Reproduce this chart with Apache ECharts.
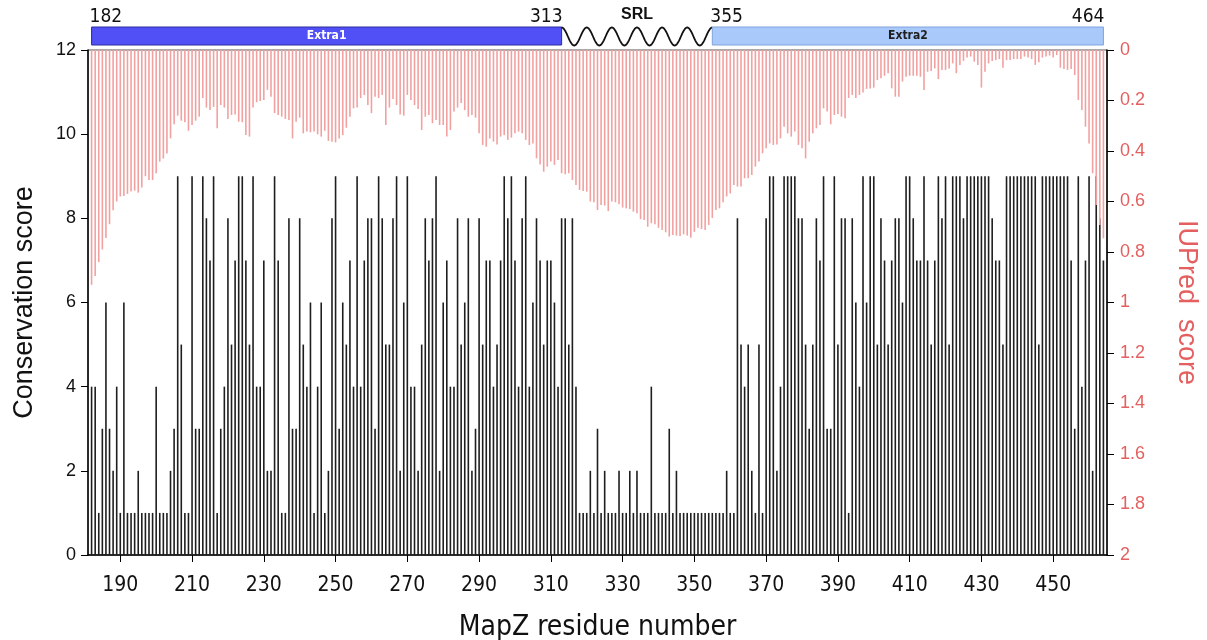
<!DOCTYPE html>
<html><head><meta charset="utf-8">
<script src="https://cdn.jsdelivr.net/npm/echarts@6/dist/echarts.min.js"></script>
<style>html,body{margin:0;padding:0;background:#fff}#c{width:1207px;height:640px}</style>
</head><body><div id="c"></div>
<script>
// ---- data ----
const firstResidue = 182;
const conservation = [
  4,4,1,3,6,3,2,4,1,6,1,1,1,2,1,1,1,1,4,1,1,1,2,3,9,5,1,1,9,3,3,9,8,7,9,
  1,3,4,8,5,7,9,9,7,5,9,4,4,7,2,2,9,7,1,1,8,3,3,8,5,4,6,1,4,6,1,2,8,9,3,
  6,5,7,4,9,4,7,8,8,3,9,8,5,5,8,9,2,6,9,4,4,2,5,8,7,8,9,2,6,7,4,4,8,5,
  6,8,2,3,8,5,7,7,4,5,7,9,8,9,7,4,8,9,4,6,8,7,5,7,7,6,4,8,8,5,8,4,1,1,1,
  2,1,3,1,2,1,1,1,2,1,1,2,1,2,1,1,1,4,1,1,1,1,3,1,2,1,1,1,1,1,1,1,1,1,
  1,1,1,1,2,1,1,8,5,4,5,2,1,5,1,8,9,9,2,4,9,9,9,9,8,8,5,3,5,8,7,9,3,3,9,5,
  8,8,1,8,6,4,9,6,9,9,5,8,7,5,7,8,8,6,9,9,8,7,7,9,7,5,7,9,8,9,5,9,9,9,8,
  9,9,9,9,9,9,9,8,7,7,5,9,9,9,9,9,9,9,9,9,5,9,9,9,9,9,9,9,9,7,3,9,4,7,9,2,9,8,7
];
const iupred = [
  .93,.895,.84,.79,.745,.69,.635,.60,.58,.578,.57,.56,.557,.565,.545,.50,.515,.515,.488,.442,.43,.41,.35,.294,.26,.28,.286,.32,.297,.28,.264,.19,.228,.238,.225,
  .31,.218,.228,.273,.257,.255,.284,.286,.337,.343,.228,.207,.202,.198,.158,.185,.25,.257,.264,.273,.277,.35,.284,.268,.33,.323,.326,.323,.334,.343,.32,.36,.363,.366,.35,
  .337,.308,.264,.231,.228,.19,.178,.218,.25,.185,.19,.178,.297,.228,.194,.218,.255,.26,.178,.198,.218,.234,.317,.264,.257,.29,.277,.297,.297,.343,.317,.244,.228,.21,
  .238,.264,.257,.268,.33,.376,.383,.35,.363,.374,.343,.337,.356,.347,.33,.323,.33,.356,.376,.37,.429,.453,.482,.462,.442,.455,.436,.488,.492,.488,.515,.535,.554,.558,.561,
  .60,.603,.634,.614,.616,.638,.60,.603,.611,.624,.627,.63,.64,.647,.67,.673,.70,.686,.69,.704,.713,.722,.739,.733,.735,.737,.73,.735,.743,.72,.704,.709,.713,.693,
  .665,.634,.627,.603,.58,.568,.535,.541,.541,.508,.508,.495,.462,.442,.409,.389,.37,.376,.374,.35,.304,.33,.343,.323,.376,.389,.429,.363,.33,.31,.297,.231,.244,.294,.257,.253,
  .264,.27,.19,.178,.19,.178,.168,.154,.152,.149,.119,.112,.102,.092,.152,.185,.185,.125,.106,.102,.102,.102,.106,.158,.086,.083,.073,.115,.079,.079,.073,.053,.092,.059,.043,
  .03,.026,.046,.059,.149,.086,.053,.044,.04,.036,.07,.04,.04,.036,.036,.036,.026,.03,.036,.059,.049,.03,.026,.022,.03,.02,.07,.075,.079,.075,.099,.198,.238,.304,.37,.488,.614,.693,.746
];
const xTickValues = [190,210,230,250,270,290,310,330,350,370,390,410,430,450];
const domainNames = ['Extra1','SRL','Extra2'];
const domainStart = [182,313,355];
const domainEnd   = [313,355,464];
const domainKind  = ['box','wave','box'];

// ---- build ----
const residues = conservation.map((_, i) => firstResidue + i);
const consData = residues.map((r, i) => [r, conservation[i]]);
const iuData = residues.map((r, i) => [r, iupred[i]]);
const domainData = domainNames.map((n, i) => [domainStart[i], domainEnd[i], i]);

const RED = '#e45f5f';
const NARROW = "'Liberation Sans Narrow','DejaVu Sans Condensed','Liberation Sans',sans-serif";
const SANS = "'Liberation Sans',Arial,sans-serif";

const boxStyle = {
  Extra1: {fill: '#5050f6', stroke: '#2c2c9c', text: '#ffffff'},
  Extra2: {fill: '#a9c9fa', stroke: '#7ea3dc', text: '#1e1e1e'}
};

function renderDomain(params, api) {
  const i = api.value(2);
  const x0 = api.coord([api.value(0), 0])[0];
  const x1 = api.coord([api.value(1), 0])[0];
  const top = params.coordSys.y;
  const name = domainNames[i];
  const children = [];
  if (domainKind[i] === 'box') {
    const st = boxStyle[name];
    children.push({type: 'rect', shape: {x: x0, y: top - 23, width: x1 - x0, height: 18},
      style: {fill: st.fill, stroke: st.stroke, lineWidth: 1}});
    children.push({type: 'text', style: {text: name, x: (x0 + x1) / 2, y: top - 14,
      align: 'center', verticalAlign: 'middle', fill: st.text,
      font: "bold 12px 'DejaVu Sans Condensed','Liberation Sans',sans-serif"}});
    children.push({type: 'text', style: {text: String(api.value(0)), x: x0 - 2, y: top - 33,
      align: 'left', verticalAlign: 'middle', fill: '#111', font: '19px ' + NARROW}});
    children.push({type: 'text', style: {text: String(api.value(1)), x: x1 + 1, y: top - 33,
      align: 'right', verticalAlign: 'middle', fill: '#111', font: '19px ' + NARROW}});
  } else {
    const pts = [];
    const n = 240, k = 6, cy = top - 13.5, amp = 9;
    for (let j = 0; j <= n; j++) {
      const t = j / n;
      pts.push([x0 + (x1 - x0) * t, cy - amp * Math.cos(2 * Math.PI * k * t)]);
    }
    children.push({type: 'polyline', shape: {points: pts},
      style: {stroke: '#111', lineWidth: 1.8, fill: null}});
    children.push({type: 'text', style: {text: name, x: (x0 + x1) / 2, y: top - 35,
      align: 'center', verticalAlign: 'middle', fill: '#111', font: 'bold 16px ' + SANS}});
  }
  return {type: 'group', children};
}

const chart = echarts.init(document.getElementById('c'), null, {renderer: 'canvas'});
chart.setOption({
  animation: false,
  backgroundColor: '#fff',
  grid: {left: 88, right: 100, top: 50, bottom: 85, outerBoundsMode: 'none', containLabel: false,
    show: true, borderColor: '#555', borderWidth: 1, backgroundColor: 'transparent'},
  xAxis: {
    type: 'value', min: 181, max: 465,
    axisLine: {show: true, onZero: false, lineStyle: {color: '#000', width: 1.5}},
    axisTick: {show: true, customValues: xTickValues, length: 7, lineStyle: {color: '#000', width: 1}},
    axisLabel: {customValues: xTickValues, fontSize: 21, fontFamily: NARROW, color: '#111', margin: 20},
    splitLine: {show: false},
    name: 'MapZ residue number', nameLocation: 'middle', nameGap: 59,
    nameTextStyle: {fontSize: 28, fontFamily: NARROW, color: '#111'}
  },
  yAxis: [{
    type: 'value', min: 0, max: 12, interval: 2, position: 'left',
    axisLine: {show: true, lineStyle: {color: '#000', width: 1.5}},
    axisTick: {show: true, length: 7, lineStyle: {color: '#000'}},
    axisLabel: {fontSize: 18, fontFamily: SANS, color: '#111', margin: 12},
    splitLine: {show: false},
    name: 'Conservation score', nameLocation: 'middle', nameGap: 50,
    nameTextStyle: {fontSize: 27, fontFamily: SANS, color: '#111'}
  }, {
    type: 'value', min: 0, max: 2, interval: 0.2, inverse: true, position: 'right',
    axisLine: {show: true, lineStyle: {color: '#000', width: 1.5}},
    axisTick: {show: true, length: 7, lineStyle: {color: '#000'}},
    axisLabel: {fontSize: 18, fontFamily: SANS, color: RED, margin: 13,
      formatter: v => String(+v.toFixed(1))},
    splitLine: {show: false},
    name: 'IUPred  score', nameLocation: 'middle', nameGap: 66, nameRotate: -90,
    nameTextStyle: {fontSize: 27, fontFamily: SANS, color: RED}
  }],
  series: [{
    type: 'bar', xAxisIndex: 0, yAxisIndex: 0, data: consData,
    barWidth: 1.6, barGap: '-100%', itemStyle: {color: '#1e1e1e'}, z: 2
  }, {
    type: 'bar', xAxisIndex: 0, yAxisIndex: 1, data: iuData,
    barWidth: 1.6, barGap: '-100%', itemStyle: {color: '#f2a1a1'}, z: 3
  }, {
    type: 'custom', xAxisIndex: 0, yAxisIndex: 0, data: domainData,
    renderItem: renderDomain, clip: false, silent: true, z: 5,
    encode: {x: [0, 1]}
  }]
});
</script></body></html>
